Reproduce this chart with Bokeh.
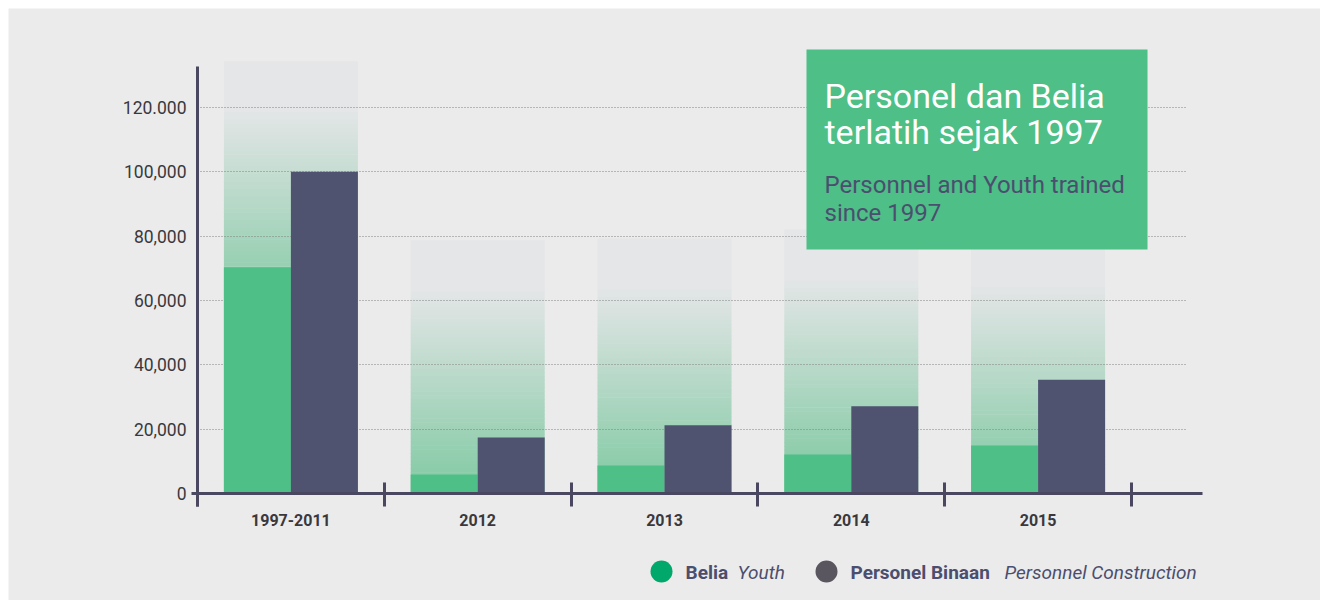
from bokeh.plotting import figure
from bokeh.models import (Range1d, FixedTicker, BoxAnnotation, Label, ColumnDataSource, Grid)
from bokeh.embed import file_html
from bokeh.resources import INLINE
from bokeh.core.properties import value

# ---------------- data ----------------
categories = ["1997-2011", "2012", "2013", "2014", "2015"]
belia = [70300, 5900, 8700, 12100, 14900]            # Belia / Youth
personel = [100000, 17400, 21200, 27100, 35400]      # Personel Binaan / Personnel Construction
backdrop = [134400, 78700, 79300, 82100, 80000]      # light backdrop columns
y_ticks = [0, 20000, 40000, 60000, 80000, 100000, 120000]
y_labels = ["0", "20,000", "40,000", "60,000", "80,000", "100,000", "120.000"]

# ---------------- styles ----------------
BG = "#ebebeb"
GREEN = "#4dbf87"
NAVY = "#4f5370"
AXIS = "#4a4761"
TXT = "#3a383d"
LEG = "#4b4e6e"
FONT = "Roboto"

# canvas-pixel -> data helpers (layout only)
X0, XS = 197.0, 186.8       # x=0 position, px per category
Y0, YS = 493.0, 3.2167      # y=0 position, px per 1000
def px(v): return (v - X0) / XS
def py(v): return (Y0 - v) / YS * 1000.0

BAR_W = 0.3587
centers = [i + 0.5 for i in range(len(categories))]

p = figure(width=1320, height=600, output_backend="svg", toolbar_location=None,
           x_range=Range1d(px(8), px(1320)), y_range=Range1d(py(600), py(8)),
           min_border_left=8, min_border_right=0, min_border_top=8, min_border_bottom=0)
p.background_fill_color = BG
p.border_fill_color = "white"
p.outline_line_color = None

# backdrop gradient columns (gray top fading to green)
HOLD, FADE, N = 14600, 57500, 48
c0 = (229, 230, 232)
c1 = (138, 204, 169)
def mix(t):
    return "#%02x%02x%02x" % tuple(int(round(a + (b - a) * t)) for a, b in zip(c0, c1))
ql, qr, qt, qb, qc = [], [], [], [], []
for k, top in enumerate(backdrop):
    l, r = centers[k] - BAR_W, centers[k] + BAR_W
    ql.append(l); qr.append(r); qt.append(top); qb.append(top - HOLD - 150); qc.append(mix(0))
    for i in range(N):
        hi = top - HOLD - FADE * i / N
        lo = top - HOLD - FADE * (i + 1) / N
        ql.append(l); qr.append(r); qt.append(hi); qb.append(lo - 150); qc.append(mix((i + 0.5) / N))
    ql.append(l); qr.append(r); qt.append(top - HOLD - FADE); qb.append(0); qc.append(mix(1))
src_bg = ColumnDataSource(dict(left=ql, right=qr, top=qt, bottom=qb, color=qc))
bg_r = p.quad(left="left", right="right", top="top", bottom="bottom", fill_color="color",
              line_color=None, source=src_bg)
bg_r.level = "image"

# bars
p.vbar(x=[c - BAR_W / 2 for c in centers], top=belia, width=BAR_W, bottom=0,
       fill_color=GREEN, line_color=None)
p.vbar(x=[c + BAR_W / 2 for c in centers], top=personel, width=BAR_W, bottom=0,
       fill_color=NAVY, line_color=None)

# grid
p.xgrid.visible = False
p.ygrid.ticker = FixedTicker(ticks=y_ticks[1:])
p.ygrid.grid_line_color = "#808080"
p.ygrid.grid_line_dash = "1 2"
p.ygrid.grid_line_width = 1
if "cross_bounds" in Grid.properties():
    p.ygrid.cross_bounds = (0, px(1187))

# y axis
ya = p.yaxis[0]
ya.fixed_location = 0
ya.bounds = (py(506), py(66))
ya.ticker = FixedTicker(ticks=y_ticks)
ya.major_label_overrides = dict(zip(y_ticks, y_labels))
ya.axis_line_color = AXIS
ya.axis_line_width = 3
ya.major_tick_line_color = None
ya.minor_tick_line_color = None
ya.major_tick_in = 0
ya.major_tick_out = 0
ya.major_label_standoff = 11
ya.major_label_text_font = FONT
ya.major_label_text_font_size = "17.5px"
ya.major_label_text_color = TXT

# x axis
xa = p.xaxis[0]
xa.fixed_location = 0
xa.bounds = (px(191), px(1202))
xa.ticker = FixedTicker(ticks=centers, minor_ticks=list(range(len(categories) + 1)))
xa.major_label_overrides = dict(zip(centers, categories))
xa.axis_line_color = AXIS
xa.axis_line_width = 3
xa.major_tick_line_color = None
xa.major_tick_in = 0
xa.major_tick_out = 0
xa.minor_tick_line_color = AXIS
xa.minor_tick_line_width = 3
xa.minor_tick_in = 11
xa.minor_tick_out = 13
xa.major_label_standoff = 7
xa.major_label_text_font = FONT
xa.major_label_text_font_size = "16px"
xa.major_label_text_font_style = "bold"
xa.major_label_text_color = TXT

# title box
p.add_layout(BoxAnnotation(left=px(806), right=px(1147), top=py(49), bottom=py(249),
                           fill_color=GREEN, fill_alpha=1, line_color=None))
for txt, yy, size, col in [("Personel dan Belia", 95, "34px", "white"),
                           ("terlatih sejak 1997", 131, "34px", "white"),
                           ("Personnel and Youth trained", 184, "24px", LEG),
                           ("since 1997", 212, "24px", LEG)]:
    p.add_layout(Label(x=px(824), y=py(yy), text=txt, text_font=FONT, text_font_size=size,
                       text_color=col, text_baseline="alphabetic", text_align="left"))

# legend
p.scatter(x=[px(661), px(826)], y=[py(571), py(571)], size=22, marker="circle",
          fill_color=["#00a86b", "#5a5660"], line_color=None)
p.text(x=[px(685), px(850)], y=[py(572), py(572)], text=["Belia", "Personel Binaan"],
       text_font=value(FONT), text_font_size="19px", text_font_style="bold",
       text_color=LEG, text_baseline="alphabetic")
p.text(x=[px(737), px(1004)], y=[py(572), py(572)], text=["Youth", "Personnel Construction"],
       text_font=value(FONT), text_font_size="19px", text_font_style="italic",
       text_color=LEG, text_baseline="alphabetic")

open("out.html", "w").write(file_html(p, INLINE))
